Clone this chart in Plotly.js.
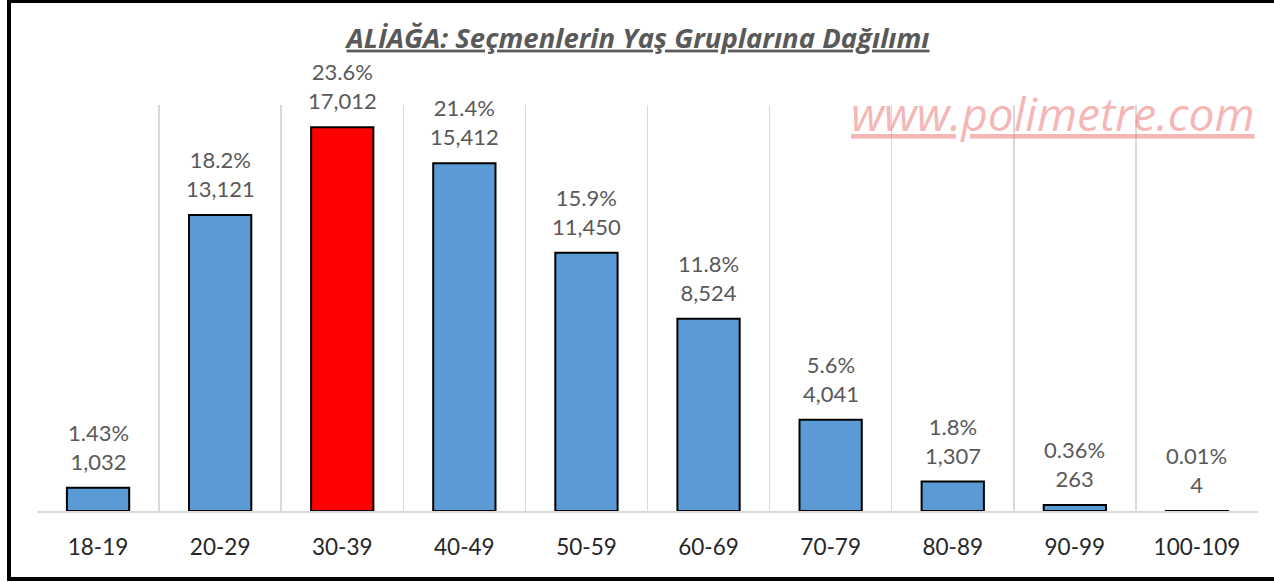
<!DOCTYPE html>
<html>
<head>
<meta charset="utf-8">
<script src="https://cdn.plot.ly/plotly-3.0.1.min.js"></script>
<style>
  html, body { margin: 0; padding: 0; background: #fff; overflow: hidden; }
  #chart { width: 1274px; height: 582px; }
  #frame { position: absolute; left: 7px; top: -1px; width: 1300px; height: 582px;
           box-sizing: border-box; border: 4px solid #000; pointer-events: none; }
</style>
</head>
<body>
<div id="chart"></div>
<div id="frame"></div>
<script>
const categories = ["18-19","20-29","30-39","40-49","50-59","60-69","70-79","80-89","90-99","100-109"];
const voters = [1032, 13121, 17012, 15412, 11450, 8524, 4041, 1307, 263, 4];
const shares = ["1.43%","18.2%","23.6%","21.4%","15.9%","11.8%","5.6%","1.8%","0.36%","0.01%"];
const highlight = "30-39";

const blue = "#5B9BD5", red = "#FF0000";
const colors = categories.map(c => c === highlight ? red : blue);

const trace = {
  type: "bar",
  x: categories,
  y: voters,
  width: 0.51,
  marker: { color: colors, line: { color: "#000", width: 2 } },
  hoverinfo: "skip"
};

const labelAnnots = categories.map((c, i) => ({
  x: c, y: voters[i], xref: "x", yref: "y",
  text: shares[i] + "<br>" + voters[i].toLocaleString("en-US"),
  showarrow: false, yanchor: "bottom", yshift: 11,
  font: { family: "Lato, 'Open Sans', sans-serif", size: 22, color: "#595959" }
}));

const layout = {
  width: 1274, height: 582,
  margin: { l: 37, r: 16, t: 105, b: 71 },
  paper_bgcolor: "#fff", plot_bgcolor: "#fff",
  showlegend: false,
  bargap: 0.49,
  title: {
    text: "<b><i><u>ALİAĞA: Seçmenlerin Yaş Gruplarına Dağılımı</u></i></b>",
    xref: "container", x: 0.5008, xanchor: "center",
    yref: "container", y: 1 - 38/582, yanchor: "middle",
    font: { family: "'Open Sans', Lato, sans-serif", size: 27.5, color: "#595959" }
  },
  xaxis: {
    type: "category",
    tickson: "boundaries",
    showgrid: true, gridcolor: "#D9D9D9", gridwidth: 1.5,
    showline: true, linecolor: "#D9D9D9", linewidth: 1.5,
    ticks: "", ticklabelstandoff: 15,
    tickfont: { family: "Lato, 'Open Sans', sans-serif", size: 22.5, color: "#262626" },
    fixedrange: true
  },
  yaxis: {
    range: [0, 18000],
    showgrid: false, zeroline: false, showline: false,
    showticklabels: false, ticks: "", fixedrange: true
  },
  annotations: labelAnnots.concat([{
    xref: "paper", yref: "paper",
    x: (1053 - 37) / 1221, y: (511 - 113) / 406,
    xanchor: "center", yanchor: "middle",
    text: "<i><u>www.polimetre.com</u></i>",
    showarrow: false,
    font: { family: "'Open Sans', Lato, sans-serif", size: 46, color: "rgba(236,110,110,0.5)" }
  }])
};

Plotly.newPlot("chart", [trace], layout, { displayModeBar: false, staticPlot: true });
</script>
</body>
</html>
